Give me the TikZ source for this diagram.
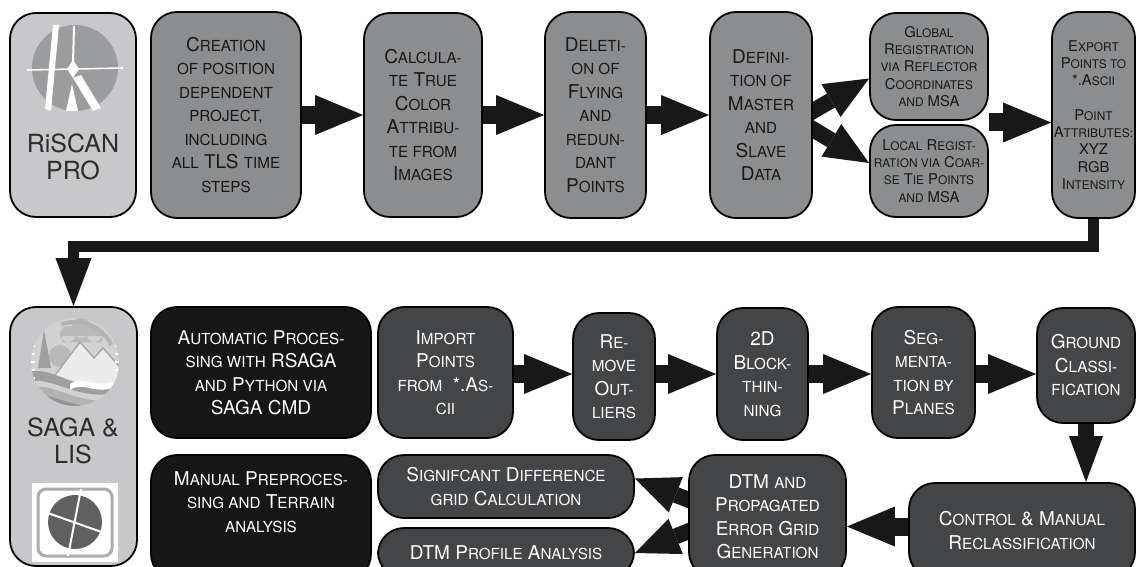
\documentclass[tikz,border=0pt]{standalone}
\usepackage{fontspec}
\setmainfont{TeX Gyre Heros}
\usetikzlibrary{arrows.meta,calc}
\pgfdeclarelayer{back}
\pgfdeclarelayer{arr}
\pgfsetlayers{back,arr,main}
\definecolor{glight}{RGB}{200,200,202}
\definecolor{gmid}{RGB}{140,141,143}
\definecolor{gdark}{RGB}{68,69,71}
\definecolor{gblk}{RGB}{22,22,22}
\definecolor{ink}{RGB}{24,24,24}
\definecolor{gtx}{RGB}{45,45,45}
\definecolor{glogo}{RGB}{155,156,158}
\newcommand\bfnt{\def\scsz{15.2}\fontsize{19}{23.5}\selectfont}
\newcommand\sfnt{\def\scsz{11.9}\fontsize{14.8}{17.2}\selectfont}
\newcommand\fsc[1]{{\fontsize{\scsz}{\scsz}\selectfont\MakeUppercase{#1}}}
\newcommand\bx[7]{\node[#2, minimum width={(#5)-(#3)}, minimum height={(#6)-(#4)}] (#1) at ({((#3)+(#5))/2},{((#4)+(#6))/2}) {#7};}
\begin{document}
\begin{tikzpicture}[x=1pt,y=-1pt,
  box/.style={draw=black, line width=1.8pt, rounded corners=26pt, inner sep=0pt, align=center, font=\bfnt},
  topbox/.style={box, fill=gmid, text=ink},
  lightbox/.style={box, fill=glight},
  darkbox/.style={box, fill=gdark, text=white},
  blkbox/.style={box, fill=gblk, text=white},
  harr/.style={draw=ink, line width=18pt, -{Triangle[length=48pt,width=40pt,line width=0pt]}},
  darr/.style={draw=ink, line width=16pt, -{Triangle[length=44pt,width=38pt,line width=0pt]}},
  varr/.style={draw=ink, line width=16pt, -{Triangle[length=46pt,width=34pt,line width=0pt]}},
  barr/.style={draw=ink, line width=11pt, line join=miter, -{Triangle[length=48pt,width=36pt,line width=0pt]}},
  logotxt/.style={font=\fontsize{25}{27.5}\selectfont, text=gtx, align=center, inner sep=0pt}
]
\useasboundingbox (0,0) rectangle (1140,567);
\begin{pgfonlayer}{back}
\fill[white] (0,0) rectangle (1140,567);
\end{pgfonlayer}

% ---------- top row ----------
\bx{riscan}{lightbox}{10}{13}{136}{217}{}
\bx{creation}{topbox}{151}{12}{301}{218}{C\fsc{reation}\\\fsc{of position}\\\fsc{dependent}\\\fsc{project,}\\\fsc{including}\\\fsc{all} TLS \fsc{time}\\\fsc{steps}}
\bx{calc}{topbox}{364}{13}{482}{217}{C\fsc{alcula-}\\\fsc{te} T\fsc{rue}\\C\fsc{olor}\\A\fsc{ttribu-}\\\fsc{te from}\\I\fsc{mages}}
\bx{deletion}{topbox}{545}{12}{646}{218}{D\fsc{eleti-}\\\fsc{on of}\\F\fsc{lying}\\\fsc{and}\\\fsc{redun-}\\\fsc{dant}\\P\fsc{oints}}
\bx{definition}{topbox}{710}{12}{812}{218}{D\fsc{efini-}\\\fsc{tion of}\\M\fsc{aster}\\\fsc{and}\\S\fsc{lave}\\D\fsc{ata}}
\bx{global}{topbox,font=\sfnt}{870}{13}{988}{120}{G\fsc{lobal}\\R\fsc{egistration}\\\fsc{via} R\fsc{eflector}\\C\fsc{oordinates}\\\fsc{and} MSA}
\bx{local}{topbox,font=\sfnt}{870}{125}{988}{217}{L\fsc{ocal} R\fsc{egist-}\\\fsc{ration via} C\fsc{oar-}\\\fsc{se} T\fsc{ie} P\fsc{oints}\\\fsc{and} MSA}
\bx{export}{topbox,font=\sfnt}{1052}{12}{1135}{218}{E\fsc{xport}\\P\fsc{oints to}\\*.A\fsc{scii}\\[17.5pt]P\fsc{oint}\\A\fsc{ttributes:}\\XYZ\\RGB\\I\fsc{ntensity}}

% RiSCAN logo
\fill[glogo] (75,68) circle (43);
\fill[white] (53,25) -- (59,25) -- (51,111) -- (45,109) -- cycle;
\draw[white, line width=1.6pt] (27,70) -- (123,68);
\draw[white, line width=2pt] (74,26) -- (73,64);
\fill[white] (73,60) -- (79,69) -- (73,78) -- (67,69) -- cycle;
\fill[white] (73,78) -- (81,75) -- (101,108) -- (93,111) -- cycle;
\fill[white] (66,111) -- (72,84) -- (78,111) -- cycle;
\node[logotxt] (riscantext) at (73,157) {RiSCAN\\PRO};

% ---------- bottom row ----------
\bx{saga}{lightbox}{10}{307}{137}{566}{}
\bx{auto}{blkbox}{151}{307}{371}{438}{A\fsc{utomatic} P\fsc{roces-}\\\fsc{sing with} RSAGA\\\fsc{and} P\fsc{ython via}\\SAGA CMD}
\bx{import}{darkbox}{378}{307}{513}{438}{I\fsc{mport}\\P\fsc{oints}\\\fsc{from}~ *.A\fsc{s-}\\\fsc{cii}}
\bx{remove}{darkbox}{573}{313}{655}{440}{R\fsc{e-}\\\fsc{move}\\O\fsc{ut-}\\\fsc{liers}}
\bx{block}{darkbox}{717}{308}{808}{440}{2D\\B\fsc{lock-}\\\fsc{thin-}\\\fsc{ning}}
\bx{seg}{darkbox}{872}{307}{975}{438}{S\fsc{eg-}\\\fsc{menta-}\\\fsc{tion by}\\P\fsc{lanes}}
\bx{ground}{darkbox}{1037}{308}{1135}{423}{G\fsc{round}\\C\fsc{lassi-}\\\fsc{fication}}
\bx{control}{darkbox}{909}{483}{1135}{578}{C\fsc{ontrol} \& M\fsc{anual}\\R\fsc{eclassification}}
\bx{dtm}{darkbox}{689}{455}{846}{578}{DTM \fsc{and}\\P\fsc{ropagated}\\E\fsc{rror} G\fsc{rid}\\G\fsc{eneration}}
\bx{signif}{darkbox}{378}{455}{634}{518}{S\fsc{ignifcant} D\fsc{ifference}\\\fsc{grid} C\fsc{alculation}}
\bx{profile}{darkbox}{378}{528}{634}{578}{DTM P\fsc{rofile} A\fsc{nalysis}}
\bx{manual}{blkbox}{151}{455}{371}{580}{}
\node[font=\bfnt, text=white, align=center, inner sep=0pt] (manualtext) at ($(manual.north)+(0,48)$) {M\fsc{anual} P\fsc{reproces-}\\\fsc{sing and} T\fsc{errain}\\\fsc{analysis}};

% SAGA logo
\begin{scope}
\clip (75,362) circle (44);
\fill[gray!35] (31,318) rectangle (119,406);
\fill[gray!55] (68,334) circle (8) (81,328) circle (10) (94,334) circle (8) (62,336) rectangle (102,342);
\fill[gray!55] (60,356) circle (11);
\fill[gray!75] (44,330) -- (38,368) -- (51,368) -- cycle;
\filldraw[fill=gray!15, draw=gray!75, line width=1.2pt] (50,382) -- (80,342) -- (94,358) -- (103,348) -- (126,374) -- (126,392) -- cycle;
\fill[gray!75] (28,372) .. controls (55,365) and (75,395) .. (124,384) -- (124,392) .. controls (75,403) and (55,375) .. (28,382) -- cycle;
\fill[white] (70,384) .. controls (85,374) and (95,392) .. (124,378) -- (124,384) .. controls (95,398) and (85,380) .. (70,390) -- cycle;
\fill[gray!60] (28,388) .. controls (55,380) and (80,410) .. (124,398) -- (124,410) -- (28,410) -- cycle;
\fill[gray!85] (28,396) .. controls (55,390) and (80,416) .. (124,406) -- (124,410) -- (28,410) -- cycle;
\foreach \yy in {330,338,346,354,362,370,378,386,394,402}{
  \draw[white, line width=1.2pt] (28,\yy) -- (35,\yy) (115,\yy) -- (124,\yy);}
\draw[gray!60, line width=4pt] (61.3,324.4) arc[start angle=-110, end angle=-25, radius=40];
\end{scope}
\node[logotxt] (sagatext) at (73,441) {SAGA \&\\LIS};

% LIS logo
\fill[white] (32,483) rectangle (118,562);
\draw[gray!65, line width=3pt, rounded corners=8pt] (38,489) rectangle (112,556);
\fill[gray!75!black] (75,522) circle (27);
\draw[white, line width=2pt] (81,489) -- (68,556);
\draw[white, line width=2pt] (42,511) -- (110,535);

% ---------- connectors ----------
\begin{pgfonlayer}{arr}
\draw[harr] (creation) -- (calc);
\draw[harr] (calc) -- (deletion);
\draw[harr] (deletion) -- (definition);
\draw[darr] ($(definition.east)+(-12,3)$) -- ($(global.west)+(0,12)$);
\draw[darr] ($(definition.east)+(-12,7)$) -- ($(local.west)+(0,-8)$);
\coordinate (gl) at ($(global.south east)!0.5!(local.north east)$);
\draw[harr] (gl) -- (gl -| export.west);
\draw[barr] (export.south) -- ++(0,28) -| (saga.north);
\coordinate (rowb) at (0,374);
\draw[harr] (import.east |- rowb) -- (remove.west |- rowb);
\draw[harr] (remove.east |- rowb) -- (block.west |- rowb);
\draw[harr] (block.east |- rowb) -- (seg.west |- rowb);
\draw[harr] (seg.east |- rowb) -- (ground.west |- rowb);
\draw[varr] (ground.south) -- (ground.south |- control.north);
\coordinate (rowc) at ($(control.west)+(0,-4)$);
\draw[harr] (rowc) -- (rowc -| dtm.east);
\draw[darr] ($(dtm.west)+(12,-12)$) -- ($(signif.east)+(0,-8)$);
\draw[darr] ($(dtm.west)+(12,10)$) -- ($(profile.east)+(0,0)$);
\end{pgfonlayer}
\end{tikzpicture}
\end{document}
